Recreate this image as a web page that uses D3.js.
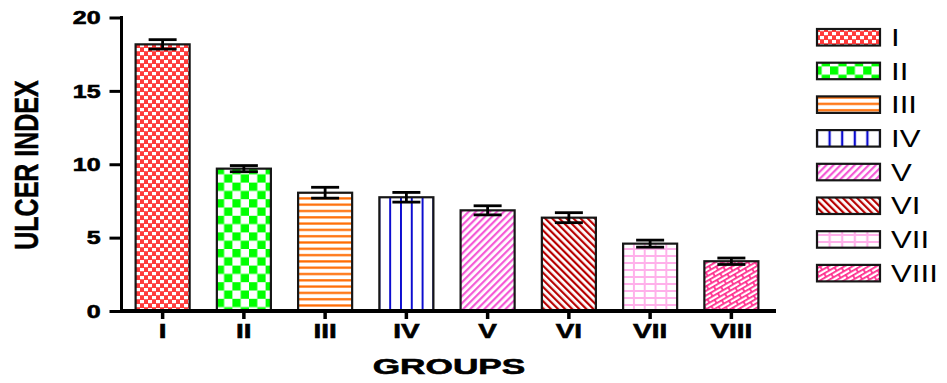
<!DOCTYPE html>
<html>
<head>
<meta charset="utf-8">
<script src="https://cdn.jsdelivr.net/npm/d3@7/dist/d3.min.js"></script>
<style>
  html, body { margin: 0; padding: 0; background: #fff; }
  svg { display: block; font-family: "Liberation Sans", Arial, sans-serif; }
</style>
</head>
<body>
<svg id="chart" width="947" height="383"></svg>
<script>
// Ulcer index per treatment group (mean ± SEM)
const groups = ["I", "II", "III", "IV", "V", "VI", "VII", "VIII"];
const ulcerIndex = [18.17, 9.70, 8.06, 7.75, 6.86, 6.36, 4.59, 3.39];
const errorSEM = [0.32, 0.21, 0.37, 0.33, 0.31, 0.34, 0.24, 0.22];
const yTicks = [0, 5, 10, 15, 20];

// fill layers (pattern ids) for each group
const fillLayers = [
  ["pI"], ["pII"], ["pIII"], ["pIV"], ["pV"], ["pVI"], ["pVIIh", "pVIIv"], ["pVIII"]
];

const svg = d3.select("#chart");
const defs = svg.append("defs");

// --- hatch / pattern definitions ---
function pat(id, w, h, opts = {}) {
  const p = defs.append("pattern")
    .attr("id", id)
    .attr("patternUnits", opts.units || "userSpaceOnUse")
    .attr("width", w).attr("height", h);
  if (opts.content) p.attr("patternContentUnits", opts.content);
  if (opts.transform) p.attr("patternTransform", opts.transform);
  if (opts.bg) p.append("rect").attr("width", w).attr("height", h).attr("fill", opts.bg);
  return p;
}

// I: fine red checker
let p = pat("pI", 8, 8, { bg: "#ff3b3b" });
p.append("rect").attr("x", 0).attr("y", 0).attr("width", 4).attr("height", 3.2).attr("fill", "#fff");
p.append("rect").attr("x", 4).attr("y", 4).attr("width", 4).attr("height", 3.2).attr("fill", "#fff");

// II: coarse green checker
p = pat("pII", 16.6, 16.6, { bg: "#fff" });
p.append("rect").attr("x", 0).attr("y", 0).attr("width", 8.3).attr("height", 8.3).attr("fill", "#00ff00");
p.append("rect").attr("x", 8.3).attr("y", 8.3).attr("width", 8.3).attr("height", 8.3).attr("fill", "#00ff00");

// III: orange horizontal lines
p = pat("pIII", 10, 6.3, { bg: "#fff" });
p.append("rect").attr("x", 0).attr("y", 2).attr("width", 10).attr("height", 2.2).attr("fill", "#ff6a00");

// IV: blue vertical lines at fifths of the box
p = pat("pIV", 0.2, 1, { units: "objectBoundingBox", content: "objectBoundingBox", bg: "#fff" });
p.append("rect").attr("x", 0).attr("y", 0).attr("width", 0.018).attr("height", 1).attr("fill", "#0a0ad0");
p.append("rect").attr("x", 0.182).attr("y", 0).attr("width", 0.018).attr("height", 1).attr("fill", "#0a0ad0");

// V: magenta "/" diagonals
p = pat("pV", 5, 5, { bg: "#fff", transform: "rotate(45)" });
p.append("rect").attr("x", 0).attr("y", 0).attr("width", 2.2).attr("height", 5).attr("fill", "#f45ad6");

// VI: dark red "\" diagonals
p = pat("pVI", 5, 5, { bg: "#fff", transform: "rotate(-45)" });
p.append("rect").attr("x", 0).attr("y", 0).attr("width", 2.2).attr("height", 5).attr("fill", "#b80000");

// VII: light pink grid (horizontal rules + vertical fifths)
p = pat("pVIIh", 10, 7, { bg: "#fff" });
p.append("rect").attr("x", 0).attr("y", 3).attr("width", 10).attr("height", 2).attr("fill", "#ffb0ea");
p = pat("pVIIv", 0.2, 1, { units: "objectBoundingBox", content: "objectBoundingBox" });
p.append("rect").attr("x", 0).attr("y", 0).attr("width", 0.018).attr("height", 1).attr("fill", "#ffb0ea");
p.append("rect").attr("x", 0.182).attr("y", 0).attr("width", 0.018).attr("height", 1).attr("fill", "#ffb0ea");

// VIII: hot pink slanted bricks
p = pat("pVIII", 12, 8, { bg: "#fff", transform: "rotate(-30)" });
p.append("path")
  .attr("d", "M0,0.8H12 M0,4.8H12 M1,0.8V4.8 M7,4.8V8.8 M7,-3.2V0.8")
  .attr("stroke", "#ff2a8c").attr("stroke-width", 1.7).attr("fill", "none");

// --- scales ---
const x = d3.scaleBand()
  .domain(groups)
  .range([122, 772])
  .paddingInner(0.335)
  .paddingOuter(0.1675);

const y = d3.scaleLinear()
  .domain([0, 20])
  .range([311, 17.5]);

// stretched text helper: width scaled by k around the anchor point
function stretch(sel, k) {
  sel.each(function () {
    const t = d3.select(this);
    const xx = +t.attr("x") || 0;
    t.attr("x", xx / k).attr("transform", `scale(${k},1)`);
  });
}

// --- bars ---
const bars = svg.append("g");
groups.forEach((g, i) => {
  const bx = x(g), bw = x.bandwidth(), by = y(ulcerIndex[i]), bh = y(0) - y(ulcerIndex[i]);
  fillLayers[i].forEach(id => {
    bars.append("rect").attr("x", bx).attr("y", by).attr("width", bw).attr("height", bh)
      .attr("fill", `url(#${id})`);
  });
  bars.append("rect").attr("x", bx).attr("y", by).attr("width", bw).attr("height", bh)
    .attr("fill", "none").attr("stroke", "#161616").attr("stroke-width", 2.2);
});

// --- error bars ---
const err = svg.append("g").attr("stroke", "#000").attr("stroke-width", 2.8);
groups.forEach((g, i) => {
  const cx = x(g) + x.bandwidth() / 2;
  const hi = y(ulcerIndex[i] + errorSEM[i]), lo = y(ulcerIndex[i] - errorSEM[i]);
  err.append("line").attr("x1", cx).attr("x2", cx).attr("y1", hi).attr("y2", lo);
  err.append("line").attr("x1", cx - 14).attr("x2", cx + 14).attr("y1", hi).attr("y2", hi);
  err.append("line").attr("x1", cx - 14).attr("x2", cx + 14).attr("y1", lo).attr("y2", lo);
});

// --- y axis ---
const yAxis = svg.append("g")
  .attr("transform", "translate(121.5,0)")
  .call(d3.axisLeft(y).tickValues(yTicks).tickSize(12).tickSizeOuter(0).tickFormat(d3.format("d")));
yAxis.select(".domain").attr("stroke", "#000").attr("stroke-width", 3)
  .attr("d", `M0,${y(0) + 2}V${y(20) - 1.5}`);
yAxis.selectAll(".tick line").attr("stroke", "#000").attr("stroke-width", 3);
yAxis.selectAll(".tick text")
  .attr("font-size", 18.5).attr("font-weight", "bold").attr("fill", "#000")
  .attr("stroke", "#000").attr("stroke-width", 0.6)
  .attr("font-family", "'Liberation Sans', Arial, sans-serif")
  .attr("x", -21).attr("dy", "0.34em")
  .call(stretch, 1.35);

// --- x axis ---
const xAxis = svg.append("g")
  .attr("transform", `translate(0,${y(0)})`)
  .call(d3.axisBottom(x).tickSize(8).tickSizeOuter(0));
xAxis.select(".domain").attr("stroke", "#000").attr("stroke-width", 4)
  .attr("d", "M120,0H776");
xAxis.selectAll(".tick line").attr("stroke", "#000").attr("stroke-width", 3.5);
xAxis.selectAll(".tick text")
  .attr("font-size", 21).attr("font-weight", "bold").attr("fill", "#000")
  .attr("stroke", "#000").attr("stroke-width", 0.6)
  .attr("font-family", "'Liberation Sans', Arial, sans-serif")
  .attr("y", 27).attr("dy", 0)
  .call(stretch, 1.33);

// --- axis titles ---
svg.append("text")
  .attr("transform", "translate(38,165) scale(1.33,1) rotate(-90)")
  .attr("text-anchor", "middle")
  .attr("font-size", 25).attr("font-weight", "bold")
  .attr("stroke", "#000").attr("stroke-width", 0.4)
  .text("ULCER INDEX");

svg.append("text")
  .attr("transform", "translate(449,374) scale(1.6,1)")
  .attr("text-anchor", "middle")
  .attr("font-size", 22).attr("font-weight", "bold")
  .attr("stroke", "#000").attr("stroke-width", 0.6)
  .text("GROUPS");

// --- legend ---
const legend = svg.append("g");
groups.forEach((g, i) => {
  const top = 29 + i * 33.7;
  fillLayers[i].forEach(id => {
    legend.append("rect").attr("x", 817).attr("y", top).attr("width", 63).attr("height", 16.5)
      .attr("fill", `url(#${id})`);
  });
  legend.append("rect").attr("x", 817).attr("y", top).attr("width", 63).attr("height", 16.5)
    .attr("fill", "none").attr("stroke", "#161616").attr("stroke-width", 2.2);
  legend.append("text")
    .attr("transform", `translate(891,${top + 16.8}) scale(1.3,1)`)
    .attr("font-size", 24).attr("fill", "#000")
    .text(g);
});
</script>
</body>
</html>
